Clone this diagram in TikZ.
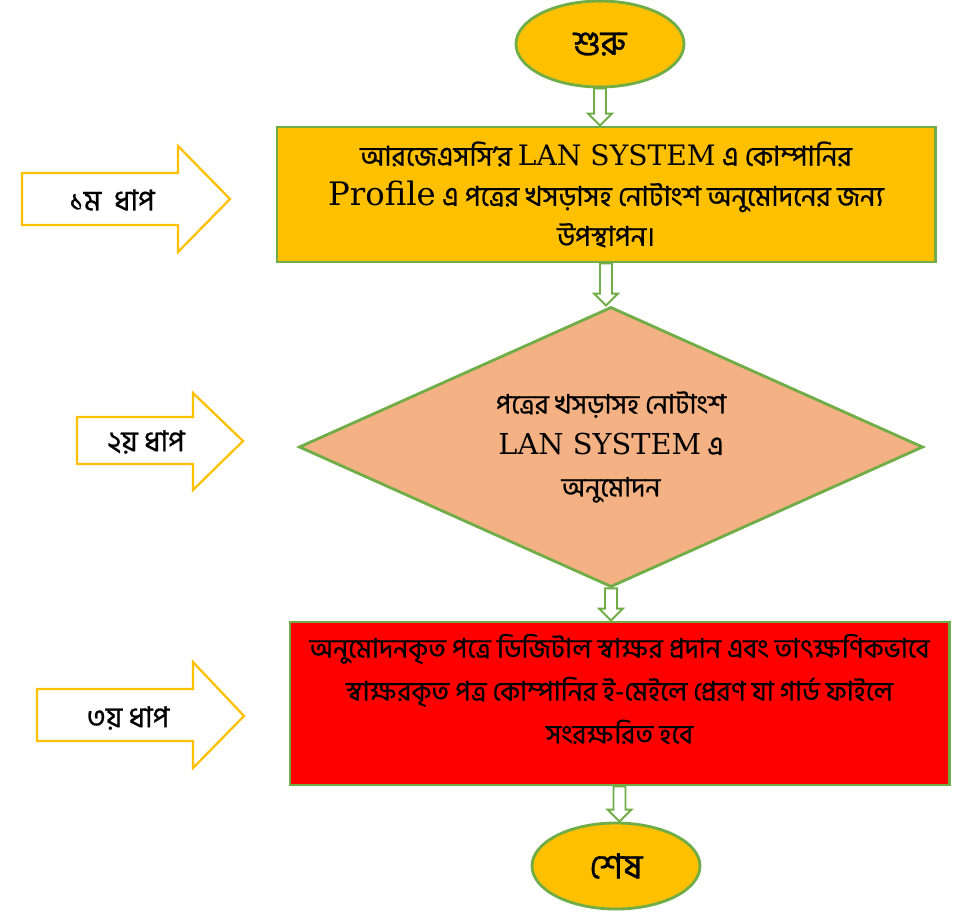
\documentclass[tikz,border=0pt]{standalone}
\usepackage{fontspec}
\setmainfont{DejaVu Serif}
\newfontfamily\bangla[Script=Bengali, FakeBold=0.8]{Hind Siliguri}
\usetikzlibrary{shapes.geometric, calc}
\definecolor{amber}{HTML}{FFC000}
\definecolor{leaf}{HTML}{70AD47}
\definecolor{peach}{HTML}{F4B183}

% hollow block arrow from the bottom of one node to the top of the next
\newcommand\hollowdown[2]{%
  \draw[flowlink] let \p1=(#1.south), \p2=(#2.north) in
    (\x1-0.15cm,\y1) -- (\x1-0.15cm,\y2+0.3cm) -- (\x1-0.3cm,\y2+0.3cm) -- (\x1,\y2)
    -- (\x1+0.3cm,\y2+0.3cm) -- (\x1+0.15cm,\y2+0.3cm) -- (\x1+0.15cm,\y1) -- cycle;}
\newcommand\latinbig[2]{{\rmfamily\fontsize{#1}{28}\selectfont #2}}

\begin{document}
\begin{tikzpicture}[x=0.025cm, y=-0.025cm,
    terminal/.style={ellipse, draw=leaf, line width=2pt, fill=amber,
      minimum width=4.2cm, minimum height=2.15cm, font=\bangla\fontsize{24.5}{28}\selectfont},
    procbox/.style={rectangle, draw=leaf, line width=2pt, align=center,
      font=\bangla\fontsize{19.5}{28.5}\selectfont},
    decision/.style={diamond, draw=leaf, line width=2pt, fill=peach, aspect=2.2,
      inner sep=1pt, minimum width=15.6cm, minimum height=7cm, align=center,
      font=\bangla\fontsize{19}{29.5}\selectfont},
    flowlink/.style={draw=leaf, line width=1.4pt, fill=white},
    stepshape/.style={draw=amber, line width=1.6pt, fill=white},
    steptext/.style={font=\bangla\fontsize{20.5}{24}\selectfont}]
  \useasboundingbox (0,0) rectangle (973,915);

  % main flow
  \node[terminal] (start) at (600,44) {শুরু};
  \node[procbox, fill=amber, minimum width=16.45cm, minimum height=3.375cm] (submit) at (606,194.5)
    {আরজেএসসি’র \latinbig{20}{LAN SYSTEM} এ কোম্পানির\\
     \latinbig{23}{Profile} এ পত্রের খসড়াসহ নোটাংশ অনুমোদনের জন্য\\
     উপস্থাপন।};
  \node[decision] (check) at (611,447)
    {পত্রের খসড়াসহ নোটাংশ\\
     \latinbig{20.5}{LAN SYSTEM} এ\\
     অনুমোদন};
  \node[procbox, fill=red, minimum width=16.475cm, minimum height=4.075cm] (sign) at (619.5,703.5) {};
  \node[procbox, draw=none, anchor=north, inner sep=0pt, yshift=-0.3cm,
    font=\bangla\fontsize{19}{30.5}\selectfont] (signtext) at (sign.north)
    {অনুমোদনকৃত পত্রে ডিজিটাল স্বাক্ষর প্রদান এবং তাৎক্ষণিকভাবে\\
     স্বাক্ষরকৃত পত্র কোম্পানির ই-মেইলে প্রেরণ যা গার্ড ফাইলে\\
     সংরক্ষরিত হবে};
  \node[terminal] (finish) at (616,866) {শেষ};

  \hollowdown{start}{submit}
  \hollowdown{submit}{check}
  \hollowdown{check}{sign}
  \hollowdown{sign}{finish}

  % step markers
  \draw[stepshape] (22,173) -- (178,173) -- (178,146) -- (230,199) -- (178,252) -- (178,225) -- (22,225) -- cycle;
  \node[steptext] (step1) at (112,200) {১ম\ \ ধাপ};
  \draw[stepshape] (77,417) -- (193,417) -- (193,393) -- (243,441) -- (193,490) -- (193,464) -- (77,464) -- cycle;
  \node[steptext] (step2) at (146,442) {২য় ধাপ};
  \draw[stepshape] (37,689) -- (193,689) -- (193,662) -- (244,716) -- (193,768) -- (193,741) -- (37,741) -- cycle;
  \node[steptext] (step3) at (128,718) {৩য় ধাপ};
\end{tikzpicture}
\end{document}
